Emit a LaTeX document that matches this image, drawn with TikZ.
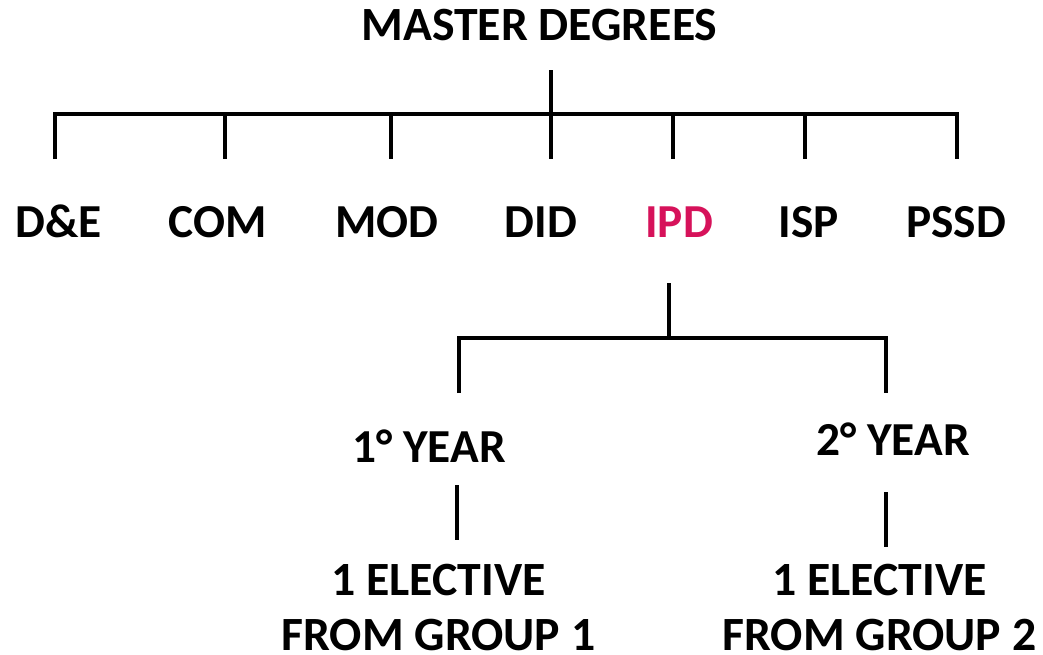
\documentclass[tikz,border=0pt]{standalone}
\usepackage{fontspec}
\setmainfont{Carlito}
\definecolor{ipdred}{RGB}{214,18,90}

\begin{document}
\begin{tikzpicture}[x=0.75pt,y=-0.75pt,line width=3pt,
	big label/.style={font=\bfseries\fontsize{35.5}{42}\selectfont,anchor=base,inner sep=0pt},
	small label/.style={font=\bfseries\fontsize{35.8}{41.25}\selectfont,anchor=base,inner sep=0pt,align=center}]
	\useasboundingbox (0,0) rectangle (1043,654);
	
	\node[small label] at (539.5,40) (master) {MASTER DEGREES};
	\coordinate (master-b) at (551,70);
	
	\foreach \n/\t/\x/\c/\col in {de/D\&E/58.5/55/black, com/COM/217.5/225/black, mod/MOD/387/391/black, did/DID/541/551/black, ipd/IPD/679/673/ipdred, isp/ISP/809/805/black, pssd/PSSD/956/957/black}{
		\node[big label,text=\col] at (\x,237) (\n) {\t};
		\coordinate (\n-a) at (\c,114);
		\coordinate (\n-b) at (\c,159);
		\draw (\n-a) -- (\n-b);
	}
	\draw (de-b) -- (de-a) -- (pssd-a) -- (pssd-b);
	\draw (master-b) -- (did-a);
	
	\node[big label] at (429,462) (year1) {1° YEAR};
	\node[big label] at (893,455) (year2) {2° YEAR};
	\node[small label] at (438.5,650) (elective1) {1 ELECTIVE\\FROM GROUP 1};
	\node[small label] at (879.5,650) (elective2) {1 ELECTIVE\\FROM GROUP 2};
	
	\coordinate (ipd-c) at (669,283);
	\coordinate (split) at (669,338);
	\coordinate (year1-a) at (459,338);
	\coordinate (year1-b) at (459,393);
	\coordinate (year2-a) at (886,338);
	\coordinate (year2-b) at (886,393);
	\draw (ipd-c) -- (split);
	\draw (year1-b) -- (year1-a) -- (year2-a) -- (year2-b);
	
	\coordinate (year1-c) at (457,485);
	\coordinate (year1-d) at (457,540);
	\coordinate (year2-c) at (886,492);
	\coordinate (year2-d) at (886,547);
	\draw (year1-c) -- (year1-d);
	\draw (year2-c) -- (year2-d);
	
\end{tikzpicture}
\end{document}
